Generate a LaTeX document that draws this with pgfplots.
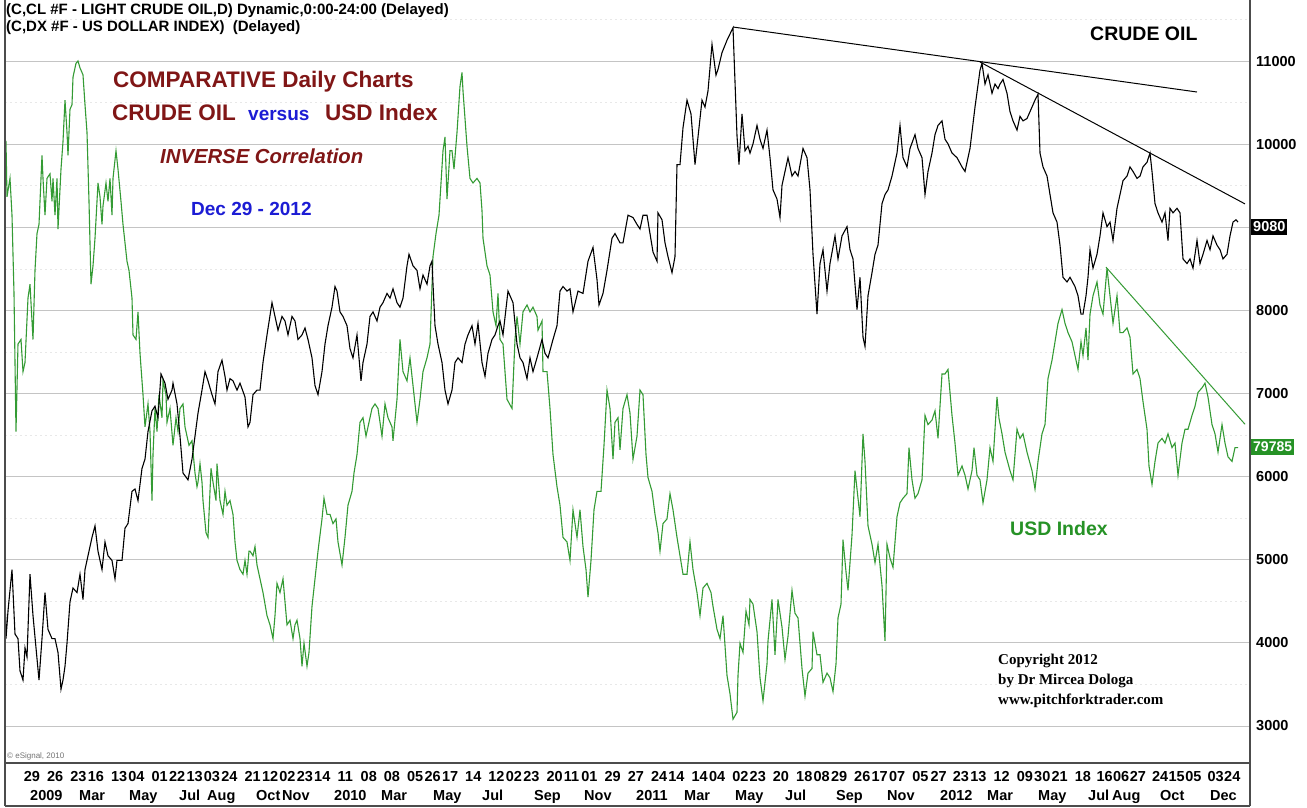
\documentclass[border=0pt]{standalone}
\usepackage{pgfplots}
\pgfplotsset{compat=1.18}
\usepackage{fontspec}
\setmainfont{Liberation Sans}
\newfontfamily\timesfont{Liberation Serif}
\definecolor{oilred}{RGB}{128,22,22}
\definecolor{vblue}{RGB}{28,28,212}
\definecolor{usdgreen}{RGB}{52,155,52}
\definecolor{txtgreen}{RGB}{38,146,38}
\definecolor{gridgray}{RGB}{196,196,196}
\newcommand{\fs}[1]{\fontsize{#1}{#1}\selectfont}
\begin{document}
\begin{tikzpicture}[x=1pt,y=1pt]
\path[use as bounding box] (0,0) rectangle (1307,808);
\fill[white] (0,0) rectangle (1307,808);
\begin{axis}[
  at={(5pt,45pt)}, anchor=south west,
  scale only axis, width=1245pt, height=763pt,
  xmin=5, xmax=1250, ymin=2555, ymax=11734,
  scaled x ticks=false, scaled y ticks=false,
  axis line style={draw=none},
  major tick length=0pt, minor tick length=0pt,
  ytick={3000,4000,...,11000},
  yticklabels={3000,4000,5000,6000,7000,8000,{},10000,11000},
  yticklabel pos=right,
  yticklabel style={anchor=west, inner sep=0pt, xshift=6pt, font=\bfseries\fs{14.5}},
  minor ytick={3500,4500,...,11500},
  ymajorgrids, yminorgrids,
  major grid style={gridgray, line width=1pt},
  minor grid style={black!9, line width=0.6pt, dash pattern=on 2pt off 3pt},
  xtick={23.7,46.9,70.2,87.6,110.8,128.2,151.4,168.9,186.3,203.7,221.1,244.3,261.8,279.2,296.6,314.0,337.3,360.5,383.7,406.9,424.3,441.8,465.0,488.2,505.6,523.1,546.3,563.7,581.1,604.4,627.6,650.8,668.2,691.4,708.9,732.1,749.5,772.7,796.0,813.4,830.8,854.0,871.4,888.9,912.1,930.4,952.7,970.2,993.4,1016.6,1034.0,1051.4,1074.7,1096.3,1112.9,1129.6,1151.8,1168.4,1185.1,1207.3,1224.0},
  xticklabels={29,26,23,16,13,04,01,22,13,03,24,21,12,02,23,14,11,08,08,05,26,17,14,12,02,23,20,11,01,29,27,24,14,14,04,02,23,20,18,08,29,26,17,07,05,27,23,13,12,09,30,21,18,16,06,27,24,15,05,03,24},
  xticklabel style={anchor=base west, inner sep=0pt, yshift=-18.5pt, font=\bfseries\fs{14.5}},
  extra x ticks={30,79,129,179,207,256,282,334,381,433,482,534,584,636,684,735,785,836,887,940,987,1038,1088,1112,1160,1210},
  extra x tick labels={2009,Mar,May,Jul,Aug,Oct,Nov,2010,Mar,May,Jul,Sep,Nov,2011,Mar,May,Jul,Sep,Nov,2012,Mar,May,Jul,Aug,Oct,Dec},
  extra x tick style={tick label style={yshift=-19.5pt}},
]
% USD index (scaled)
\addplot[usdgreen, line width=1.1pt] coordinates {
(5,10050) (6,10031) (7,9367) (10,9588) (12,9145) (14,8204) (16,6543) (18,7595) (21,7650) (23,7263) (25,7373) (28,8148) (30,8315) (33,7650) (35,8481) (37,8924) (39,9034) (42,9865) (43,9588) (45,9145) (47,9588) (50,9643) (52,9311) (53,9588) (55,9145) (57,9588) (58,8979) (61,9699) (63,10031) (65,10529) (67,10142) (68,9865) (70,10419) (72,10474) (73,10806) (76,10972) (78,11000) (80,10917) (83,10834) (85,10474) (87,10142) (89,9311) (91,8315) (93,8536) (95,8868) (98,9533) (100,9367) (102,9034) (103,9256) (106,9533) (108,9311) (110,9588) (112,9145) (113,9588) (116,9920) (118,9699) (121,9311) (123,9034) (125,8813) (127,8591) (129,8481) (132,8148) (133,7705) (136,7650) (138,7982) (140,7484) (143,6986) (145,6598) (148,6875) (150,6543) (152,5712) (153,6266) (155,6820) (157,6543) (159,6986) (162,6709) (163,7152) (166,6986) (167,6653) (170,6820) (173,6377) (176,6709) (178,6543) (180,6820) (183,6875) (185,6598) (187,6487) (189,6377) (192,6432) (195,6044) (197,5878) (198,5934) (200,6155) (202,5934) (203,5712) (206,5325) (208,5269) (211,6100) (213,5934) (216,5712) (217,6155) (220,5712) (223,5546) (225,5823) (227,5657) (230,5712) (233,5546) (235,5214) (237,4992) (240,4882) (243,4826) (245,4992) (247,4826) (249,5103)
(250,5103) (253,5048) (255,5158) (257,4937) (260,4771) (263,4605) (267,4328) (270,4217) (273,4051) (275,4328) (277,4716) (280,4605) (283,4771) (285,4494) (287,4217) (290,4273) (293,4051) (295,4217) (297,4273) (300,4051) (302,3719) (304,3996) (307,3719) (309,3885) (312,4439) (315,4771) (318,5103) (322,5491) (324,5740) (327,5546) (330,5546) (333,5435) (336,5491) (338,5214) (342,4937) (345,5269) (348,5657) (352,5823) (354,6044) (357,6266) (360,6653) (363,6709) (366,6487) (368,6598) (372,6820) (375,6875) (378,6820) (382,6487) (385,6875) (388,6709) (392,6598) (393,6432) (397,6930) (400,7650) (403,7263) (407,7152) (410,7429) (413,7096) (417,6653) (420,6930) (423,7263) (427,7429) (430,7595) (433,8647) (436,8924) (439,9145) (443,9920) (445,10086) (447,9339) (450,9920) (452,9920) (454,9699) (457,10142) (460,10695) (462,10862) (463,10640) (465,10308) (467,9975) (470,9588) (473,9533) (477,9588) (480,9533) (482,9201) (483,8868) (487,8536) (490,8425) (493,7982) (496,7816) (498,8204)
(500,7650) (503,7595) (507,6930) (512,6820) (515,7650) (517,7927) (520,7595) (523,7982) (527,8065) (530,7982) (533,8038) (537,7927) (538,7761) (542,7872) (543,7263) (547,7263) (550,6820) (553,6266) (557,5878) (560,5657) (563,5269) (567,5214) (570,4992) (573,5601) (577,5269) (580,5601) (583,5158) (586,4882) (588,4550) (591,4992) (594,5601) (597,5823) (601,5823) (604,6377) (607,7041) (610,6820) (613,6210) (615,6653) (618,6709) (620,6321) (623,6820) (627,6986) (630,6764) (633,6210) (637,6487) (640,7041) (643,6986) (646,6266) (648,5989) (652,5823) (655,5546) (658,5325) (660,5103) (663,5435) (667,5491) (670,5795) (673,5601) (677,5269) (680,5048) (683,4826) (687,4826) (690,5214) (693,4882) (697,4605) (700,4328) (703,4660) (707,4716) (711,4605) (713,4439) (717,4162) (720,4051) (723,4328) (727,3608) (730,3387) (733,3082) (737,3165) (738,3608) (740,3996) (743,3885) (746,4383) (749,4217)
(750,4522) (753,4466) (757,4134) (760,3580) (763,3303) (767,3746) (768,4023) (772,4522) (775,3857) (778,4522) (782,4189) (785,3802) (788,4079) (792,4632) (795,4356) (798,4300) (802,3691) (805,3359) (808,3636) (812,3691) (813,4134) (817,3857) (820,3857) (823,3525) (827,3636) (830,3580) (833,3414) (836,3746) (838,4300) (841,4466) (843,5241) (846,4854) (848,4632) (852,5297) (855,6072) (857,5851) (860,5518) (863,6515) (865,6183) (868,5408) (872,5186) (875,4965) (878,5186) (882,4688) (885,4023) (887,5186) (890,5020) (893,4909) (897,5518) (900,5685) (903,5740) (907,5795) (909,6349) (912,5961) (915,5740) (918,5795) (922,5961) (925,6736) (928,6626) (932,6681) (935,6792) (938,6460) (942,7235) (945,7235) (948,7290) (952,6736) (955,6404) (958,6017) (962,6128) (965,6017) (968,5851) (972,6072) (974,6349) (977,6017) (980,5961) (983,5685) (987,5961) (990,6349) (993,6183) (997,6958) (999,6700)
(1002,6515) (1005,6294) (1010,6072) (1013,5961) (1017,6570) (1020,6460) (1023,6515) (1027,6294) (1032,6072) (1035,5851) (1038,6183) (1042,6515) (1045,6626) (1048,7180) (1052,7401) (1055,7622) (1058,7844) (1062,8010) (1065,7844) (1068,7733) (1072,7622) (1075,7456) (1078,7290) (1081,7622) (1083,7456) (1086,7789) (1088,7401) (1090,7955) (1093,8176) (1097,8342) (1100,8065) (1103,7955) (1107,8508) (1110,8176) (1113,7844) (1117,8176) (1120,7733) (1123,7733) (1127,7789) (1130,7678) (1133,7235) (1137,7290) (1140,7180) (1143,6902) (1147,6570) (1149,6128) (1152,5906) (1155,6183) (1158,6404) (1162,6460) (1165,6404) (1168,6515) (1172,6349) (1175,6404) (1178,6017) (1182,6404) (1185,6570) (1188,6570) (1192,6736) (1195,6847) (1198,7013) (1202,7069) (1205,7124) (1208,6958) (1212,6626) (1215,6515) (1218,6294) (1222,6626) (1225,6404) (1228,6238) (1232,6183) (1235,6349) (1238,6349)
};
% Light crude oil
\addplot[black, line width=1.1pt] coordinates {
(5,4600) (6,4051) (8,4383) (12,4882) (15,4106) (18,4051) (20,3663) (23,3553) (25,3940) (27,3830) (30,4826) (33,4328) (36,3940) (39,3553) (42,4051) (45,4605) (48,4162) (52,4051) (55,4051) (58,3885) (61,3442) (63,3553) (65,3719) (67,3996) (70,4494) (73,4660) (77,4605) (80,4826) (83,4522) (85,4882) (88,5048) (92,5269) (95,5408) (98,5103) (102,4882) (105,5214) (108,5048) (112,4992) (115,4771) (117,4992) (122,4992) (125,5380) (128,5435) (132,5823) (135,5851) (138,5712) (142,6100) (145,6210) (148,6543) (152,6792) (155,6847) (158,6709) (161,7235) (165,7124) (168,6930) (172,7041) (173,7124) (177,6875) (180,6487) (183,6044) (188,5961) (192,6210) (195,6487) (198,6764) (202,7041) (205,7263) (208,7152) (212,6986) (215,6875) (218,7263) (222,7401) (225,7207) (227,7041) (230,7179) (233,7152) (237,7041) (240,7124) (245,6958) (248,6598)
(250,6653) (253,6986) (257,7041) (260,7041) (263,7373) (267,7705) (272,8093) (275,7927) (278,7761) (282,7927) (285,7872) (288,7705) (292,7927) (295,7872) (298,7650) (302,7705) (305,7788) (308,7650) (312,7429) (315,7096) (318,6986) (322,7263) (325,7595) (328,7816) (332,8038) (335,8287) (337,8232) (340,7982) (343,7927) (347,7816) (350,7539) (353,7429) (357,7705) (361,7152) (363,7373) (367,7595) (370,7927) (373,7982) (377,7872) (380,8038) (383,8093) (387,8204) (390,8148) (393,8259) (397,8093) (400,8038) (403,8148) (407,8536) (409,8675) (413,8536) (417,8481) (420,8259) (423,8425) (427,8315) (430,8536) (432,8592) (433,8315) (435,7816) (438,7595) (442,7373) (445,7041) (448,6875) (452,7041) (455,7373) (458,7429) (462,7373) (465,7595) (468,7705) (472,7816) (475,7595) (478,7844) (482,7373) (485,7207) (488,7484) (492,7650) (495,7705) (498,7816)
(500,7872) (503,7705) (508,8232) (513,8093) (517,7595) (520,7429) (523,7373) (527,7179) (530,7429) (533,7263) (537,7429) (542,7650) (545,7484) (548,7429) (553,7650) (557,7816) (560,8232) (563,8287) (567,8232) (570,8259) (573,7982) (578,8232) (583,8204) (588,8591) (593,8757) (597,8370) (599,8065) (603,8204) (607,8481) (612,8868) (615,8924) (620,8813) (623,8813) (628,9145) (633,9117) (637,9034) (640,8979) (643,9145) (647,9145) (650,8924) (653,8702) (657,8592) (658,9173) (662,9090) (665,8813) (668,8647) (672,8453) (675,8647) (677,9754) (680,9754) (683,10197) (687,10529) (691,10363) (695,9754) (698,10086) (702,10529) (705,10446) (708,10640) (712,11200) (716,10830) (718,10900) (722,11100) (727,11250) (733,11400) (737,10100) (739,9754) (742,10363) (745,9920) (748,9975)
(750,9893) (753,10003) (757,10225) (760,10059) (763,9948) (767,10169) (770,9837) (773,9450) (777,9339) (780,9117) (782,9505) (785,9671) (788,9837) (792,9616) (795,9671) (798,9616) (803,9948) (807,9837) (810,9450) (813,8675) (817,7955) (820,8564) (823,8730) (827,8232) (830,8564) (835,8896) (838,8619) (842,8896) (847,9007) (850,8730) (853,8619) (857,8010) (860,8398) (863,7678) (865,7567) (868,8176) (872,8453) (875,8675) (878,8785) (882,9284) (885,9394) (888,9450) (892,9616) (897,9893) (900,10225) (903,9837) (907,9726) (910,9948) (915,10114) (918,9948) (922,9837) (925,9394) (928,9671) (932,9893) (935,10114) (938,10225) (942,10280) (945,10059) (948,10003) (952,9893) (957,9837) (962,9726) (965,9671) (970,9948) (975,10446) (980,10889) (982,10972) (985,10723) (988,10834) (992,10612) (995,10723)
(998,10668) (1000,10723) (1003,10778) (1007,10612) (1010,10391) (1013,10280) (1017,10169) (1020,10335) (1023,10280) (1027,10308) (1030,10391) (1035,10529) (1038,10600) (1040,9893) (1043,9726) (1047,9616) (1050,9394) (1053,9173) (1057,9062) (1060,8785) (1063,8398) (1067,8342) (1070,8398) (1075,8287) (1078,8176) (1081,7955) (1083,7955) (1086,8176) (1088,8398) (1090,8730) (1093,8508) (1097,8675) (1100,8896) (1103,9173) (1107,9007) (1110,9062) (1113,8841) (1117,9228) (1120,9394) (1123,9560) (1127,9616) (1130,9726) (1133,9671) (1137,9588) (1140,9616) (1143,9726) (1147,9782) (1150,9893) (1152,9671) (1155,9284) (1158,9173) (1162,9062) (1165,9173) (1168,8841) (1170,9228) (1173,9173) (1177,9228) (1180,9173) (1183,8619) (1187,8564) (1190,8619) (1193,8508) (1197,8841) (1200,8564) (1203,8675) (1207,8841) (1210,8730) (1213,8896) (1217,8785) (1220,8730) (1223,8619) (1227,8675) (1230,8896) (1233,9062) (1236,9090) (1238,9062)
};
% trend lines
\addplot[black, line width=1pt] coordinates {(733,11409) (1197,10627)};
\addplot[black, line width=1pt] coordinates {(980,10988) (1245,9281)};
\addplot[usdgreen, line width=1pt] coordinates {(1106,8520) (1245,6630)};
\end{axis}
% frame
\draw[black!70, line width=1.2pt] (5,2) -- (5,808);
\draw[black!70, line width=1.2pt] (1250,2) -- (1250,808);
\draw[black!70, line width=1.2pt] (5,45) -- (1250,45);
\draw[black!70, line width=1.2pt] (5,2) -- (1250,2);
% header
\node[anchor=base west, inner sep=0pt, font=\bfseries\fs{15}] at (6,793) {(C,CL \#F - LIGHT CRUDE OIL,D) Dynamic,0:00-24:00 (Delayed)};
\node[anchor=base west, inner sep=0pt, font=\bfseries\fs{15}] at (6,776) {(C,DX \#F - US DOLLAR INDEX)\ \ (Delayed)};
% titles
\node[anchor=base west, inner sep=0pt, font=\bfseries\fs{22.5}, text=oilred] at (113,720) {COMPARATIVE Daily Charts};
\node[anchor=base west, inner sep=0pt, font=\bfseries\fs{22.5}, text=oilred] at (112,687) {CRUDE OIL};
\node[anchor=base west, inner sep=0pt, font=\bfseries\fs{19}, text=vblue] at (248,687) {versus};
\node[anchor=base west, inner sep=0pt, font=\bfseries\fs{22.5}, text=oilred] at (325,687) {USD Index};
\node[anchor=base west, inner sep=0pt, font=\bfseries\itshape\fs{20.3}, text=oilred] at (160,644) {INVERSE Correlation};
\node[anchor=base west, inner sep=0pt, font=\bfseries\fs{19}, text=vblue] at (191,592) {Dec 29 - 2012};
\node[anchor=base west, inner sep=0pt, font=\bfseries\fs{19.5}] at (1090,767) {CRUDE OIL};
\node[anchor=base west, inner sep=0pt, font=\bfseries\fs{19.5}, text=txtgreen] at (1010,272) {USD Index};
% copyright
\node[anchor=base west, inner sep=0pt, font=\timesfont\bfseries\fs{15}] at (998,143) {Copyright 2012};
\node[anchor=base west, inner sep=0pt, font=\timesfont\bfseries\fs{15}] at (998,123) {by Dr Mircea Dologa};
\node[anchor=base west, inner sep=0pt, font=\timesfont\bfseries\fs{15}] at (998,103) {www.pitchforktrader.com};
\node[anchor=base west, inner sep=0pt, font=\fs{8}, text=black!55] at (7,49) {\textcopyright\ eSignal, 2010};
% last value boxes
\node[anchor=west, fill=black, text=white, inner xsep=2pt, inner ysep=3pt, font=\bfseries\fs{14.5}] at (1251,581) {9080};
\node[anchor=west, fill=txtgreen, text=white, inner xsep=2pt, inner ysep=3pt, font=\bfseries\fs{14}] at (1251,361) {79785};
\end{tikzpicture}
\end{document}
